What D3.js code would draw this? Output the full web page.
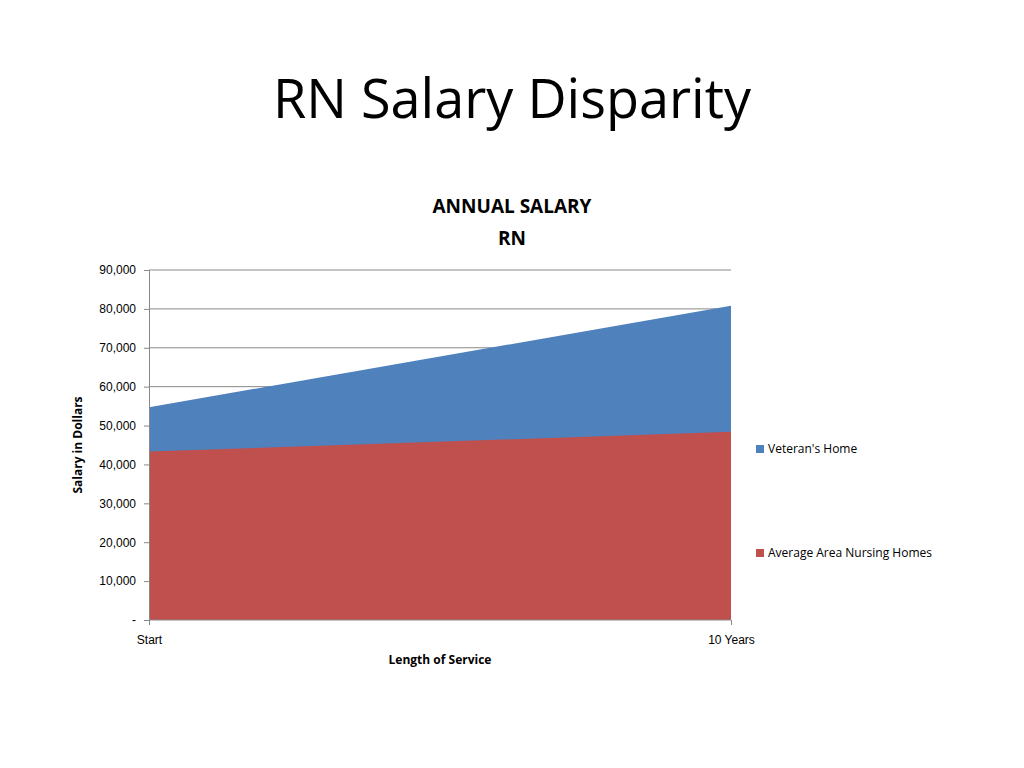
<!DOCTYPE html>
<html><head><meta charset="utf-8">
<script src="https://cdn.jsdelivr.net/npm/d3@7"></script>
<style>body{margin:0;background:#fff;font-family:"Open Sans","Liberation Sans",sans-serif}</style>
</head><body><svg id="c" width="1024" height="768"></svg>
<script>
const categories = ["Start", "10 Years"];
const seriesNames = ["Veteran's Home", "Average Area Nursing Homes"];
const veteransHome = [54700, 80800];
const nursingHomes = [43300, 48400];
const yTicks = [0,10000,20000,30000,40000,50000,60000,70000,80000,90000];
const colors = ["#4f81bd", "#c0504d"];

const svg = d3.select("#c");
const L=149,R=731,T=270,B=620;
const x = d3.scalePoint().domain(categories).range([L,R]);
const y = d3.scaleLinear().domain([0,90000]).range([B,T]);

svg.append("text").attr("x",512).attr("y",118).attr("text-anchor","middle")
  .attr("font-size",54).attr("font-family","Open Sans, Liberation Sans, sans-serif").attr("fill","#000").text("RN Salary Disparity");
svg.append("text").attr("x",512).attr("y",213).attr("text-anchor","middle").attr("font-size",19).attr("font-weight","bold").text("ANNUAL SALARY");
svg.append("text").attr("x",512).attr("y",245).attr("text-anchor","middle").attr("font-size",19).attr("font-weight","bold").text("RN");

// gridlines
svg.append("g").selectAll("line").data(yTicks.filter(d=>d>0)).join("line")
  .attr("x1",L).attr("x2",R).attr("y1",d=>y(d)).attr("y2",d=>y(d)).attr("stroke","#888").attr("stroke-width",1);

const area = d3.area().x((d,i)=>x(categories[i])).y0(y(0)).y1(d=>y(d));
[veteransHome, nursingHomes].forEach((s,i)=>{
  svg.append("path").datum(s).attr("d",area).attr("fill",colors[i]);
});

const yAxis = d3.axisLeft(y).tickValues(yTicks).tickSize(5).tickPadding(8)
  .tickFormat(d=>d===0?"-":d3.format(",")(d));
const gy = svg.append("g").attr("transform",`translate(${L},0)`).call(yAxis);
gy.selectAll("text").attr("font-size",12).attr("fill","#000");
gy.selectAll("line,path").attr("stroke","#888");

const xAxis = d3.axisBottom(x).tickSize(5).tickPadding(10);
const gx = svg.append("g").attr("transform",`translate(0,${B})`).call(xAxis);
gx.selectAll("text").attr("font-size",12).attr("fill","#000");
gx.selectAll("line,path").attr("stroke","#888");
gx.select(".domain").attr("d",`M${L},0H${R}`);

svg.append("text").attr("x",440).attr("y",664).attr("text-anchor","middle").attr("font-size",12).attr("font-weight","bold").text("Length of Service");
svg.append("text").attr("transform","translate(82,445) rotate(-90)").attr("text-anchor","middle").attr("font-size",12).attr("font-weight","bold").text("Salary in Dollars");

const legY=[449,553];
seriesNames.forEach((n,i)=>{
  svg.append("rect").attr("x",756).attr("y",legY[i]-4).attr("width",8).attr("height",8).attr("fill",colors[i]);
  svg.append("text").attr("x",768).attr("y",legY[i]+4).attr("font-size",12).text(n);
});
</script></body></html>
